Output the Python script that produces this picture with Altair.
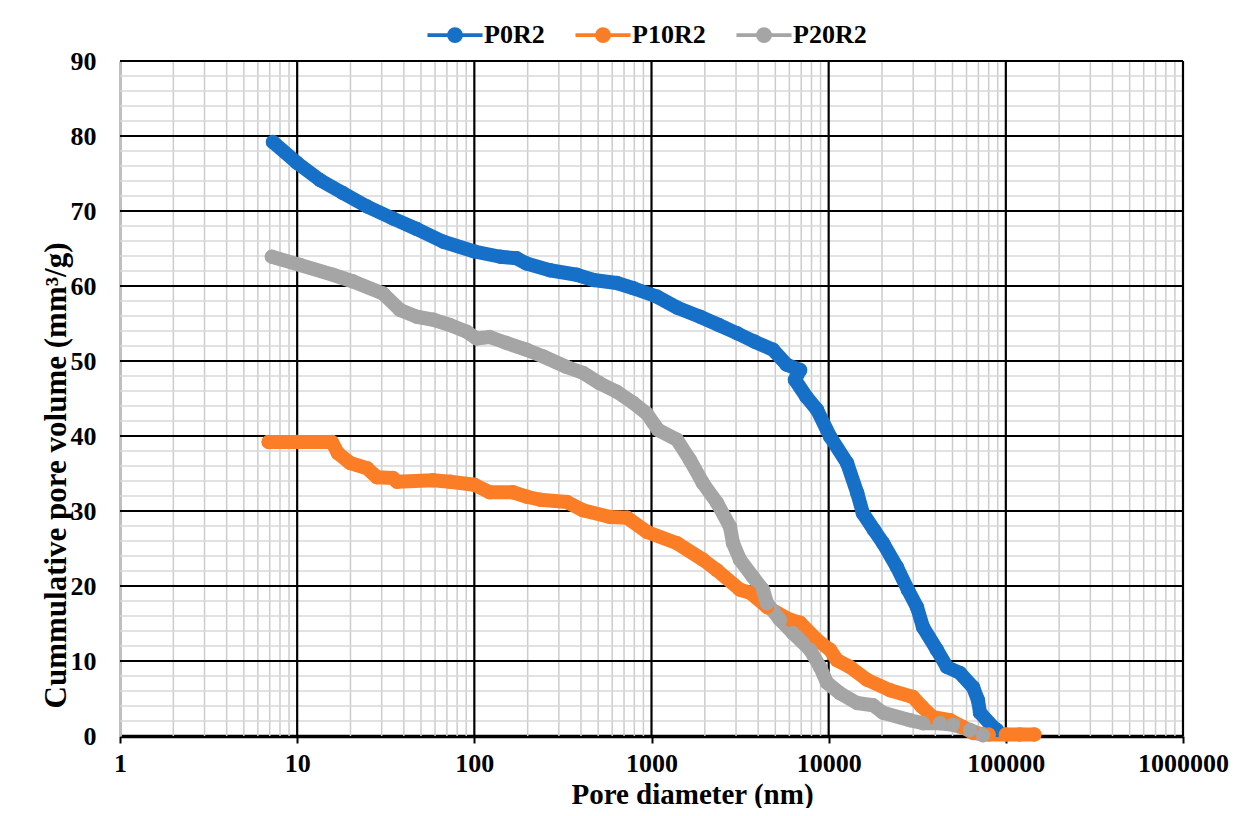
import altair as alt
import pandas as pd

# ---------------- data ----------------
series_names = ["P0R2", "P10R2", "P20R2"]
series_colors = ["#1670C8", "#FB7E27", "#A5A5A5"]

p0_d = [7.3, 10, 13.5, 18.1, 24.8, 34.7, 47.3, 66.8, 100, 140, 173, 197, 267, 378, 470, 637, 791,
        1070, 1400, 1880, 2400, 3040, 3800, 4850, 5800, 6900, 6450, 7500, 8600, 10200, 12700, 14500,
        15600, 18000, 20300, 24300, 28000, 31500, 34100, 40800, 46500, 55100, 65300, 69600, 71500,
        84600, 89100]
p0_v = [79.2, 76.4, 74.1, 72.4, 70.6, 69.0, 67.6, 65.9, 64.6, 63.9, 63.7, 63.0, 62.1, 61.5, 60.8, 60.4, 59.7,
        58.6, 57.1, 55.9, 54.8, 53.7, 52.6, 51.5, 49.5, 48.8, 47.5, 45.2, 43.5, 39.9, 36.4, 32.4,
        29.7, 27.5, 25.7, 22.5, 19.5, 17.2, 14.5, 11.5, 9.2, 8.4, 6.5, 4.8, 3.1,
        1.2, 0.8]

p10_d = [6.9, 10, 15.7, 17.0, 19.9, 24.8, 28.2, 34.7, 36.6, 58.4, 72.9, 100, 122, 165, 198, 235, 333, 410,
         583, 728, 944, 1393, 1953, 2342, 3160, 3600, 4490, 6050, 6890, 8590, 10170, 11150, 13190, 16450,
         22200, 29900, 33600, 38800, 48400, 57300, 65300, 80000, 100000, 120000, 145000]
p10_v = [39.2, 39.2, 39.2, 37.7, 36.4, 35.7, 34.5, 34.4, 33.9, 34.1, 33.9, 33.5, 32.5, 32.5, 31.9, 31.5, 31.2, 30.1,
         29.2, 29.1, 27.2, 25.7, 23.5, 22.1, 19.5, 19.1, 17.2, 15.5, 15.1, 12.8, 11.5, 10.1, 9.2, 7.5,
         6.1, 5.2, 3.9, 2.5, 2.1, 1.2, 0.4, 0.2, 0.2, 0.2, 0.2]

p20_d = [7.2, 10.4, 15.9, 20.7, 30.5, 38.1, 47.3, 58.7, 72.9, 90.6, 103, 122, 152, 197, 245, 332, 412, 512,
         637, 791, 939, 1092, 1393, 1650, 1953, 2342, 2775, 2885, 3160, 3740, 4260, 4490, 5310, 6290,
         7850, 8940, 9790, 11580, 14450, 17800, 20270, 28800, 34100, 42500, 50300, 62800, 74300]
p20_v = [63.9, 62.8, 61.5, 60.6, 59.0, 56.8, 55.9, 55.5, 54.8, 53.9, 53.0, 53.2, 52.4, 51.5, 50.6, 49.2, 48.4, 47.0,
         45.9, 44.4, 43.0, 40.8, 39.5, 36.8, 33.7, 31.1, 27.9, 25.7, 23.5, 21.2, 19.5, 17.7, 15.5, 13.7,
         11.5, 9.2, 7.1, 5.7, 4.4, 4.1, 3.1, 2.1, 1.7, 1.7, 1.5, 0.8, 0.1]

x_major = [1, 10, 100, 1000, 10000, 100000, 1000000]
x_minor = [k * 10 ** e for e in range(6) for k in range(2, 10)]
y_major = [0, 10, 20, 30, 40, 50, 60, 70, 80, 90]
y_minor = [v for v in range(2, 90, 2) if v % 10 != 0]

# ---------------- build table ----------------
rows = []
for name, ds, vs in zip(series_names, [p0_d, p10_d, p20_d], [p0_v, p10_v, p20_v]):
    for i, (d, v) in enumerate(zip(ds, vs)):
        rows.append({"series": name, "d": d, "v": v, "i": i})
df = pd.DataFrame(rows)

FONT = "Liberation Serif"
xscale = alt.Scale(type="log", domain=[1, 1000000], nice=False)
yscale = alt.Scale(domain=[0, 90], nice=False, zero=False)
cscale = alt.Scale(domain=series_names, range=series_colors)

legend_path = "M-3.67,0L3.67,0M-0.8,0A0.8,0.8,0,1,1,0.8,0A0.8,0.8,0,1,1,-0.8,0Z"
legend = alt.Legend(
    title=None, orient="none", legendX=302, legendY=-39, direction="horizontal",
    symbolType=legend_path, symbolSize=225, symbolStrokeWidth=3.8, symbolOpacity=1,
    symbolOffset=20, labelOffset=16, columnPadding=22, padding=0,
    labelFont=FONT, labelFontSize=26, labelFontWeight="bold", labelColor="black",
)

x_axis = alt.Axis(
    values=x_major, format="d", title="Pore diameter (nm)", grid=False,
    domainColor="black", domainWidth=3.5, tickColor="black", tickWidth=2, tickSize=7,
    labelFont=FONT, labelFontSize=26, labelFontWeight="bold", labelColor="black",
    labelBaseline="alphabetic", labelPadding=28, labelFlush=False, labelOverlap=False,
    titleFont=FONT, titleFontSize=29, titleFontWeight="bold", titleColor="black",
    titleX=572, titleY=67, titleBaseline="alphabetic", titleAlign="center",
)
y_axis = alt.Axis(
    values=y_major, title="Cummulative pore volume (mm³/g)", grid=False, ticks=False,
    domainColor="#BFBFBF", domainWidth=3,
    labelFont=FONT, labelFontSize=26, labelFontWeight="bold", labelColor="black",
    labelPadding=24, labelBaseline="middle",
    titleFont=FONT, titleFontSize=31, titleFontWeight="bold", titleColor="black",
    titleAngle=-90, titleX=-64, titleY=414, titleAlign="center", titleBaseline="middle",
)

gmx = alt.Chart(pd.DataFrame({"gx": x_minor})).mark_rule(color="#CCCCCC", strokeWidth=1.5).encode(
    x=alt.X("gx:Q", scale=xscale, axis=x_axis))
gmy = alt.Chart(pd.DataFrame({"gy": y_minor})).mark_rule(color="#D9D9D9", strokeWidth=1.5).encode(
    y=alt.Y("gy:Q", scale=yscale, axis=y_axis))
gMx = alt.Chart(pd.DataFrame({"gx": x_major[1:]})).mark_rule(color="black", strokeWidth=2.2).encode(
    x=alt.X("gx:Q", scale=xscale, axis=x_axis))
gMy = alt.Chart(pd.DataFrame({"gy": y_major[1:]})).mark_rule(color="black", strokeWidth=2.2).encode(
    y=alt.Y("gy:Q", scale=yscale, axis=y_axis))

lines = alt.Chart(df).mark_line(strokeWidth=14, strokeJoin="round", strokeCap="round").encode(
    x=alt.X("d:Q", scale=xscale, axis=x_axis),
    y=alt.Y("v:Q", scale=yscale, axis=y_axis),
    stroke=alt.Stroke("series:N", scale=cscale, legend=legend),
    order=alt.Order("i:Q"),
)
points = alt.Chart(df).mark_point(filled=True, size=210, opacity=1, strokeWidth=0).encode(
    x=alt.X("d:Q", scale=xscale, axis=x_axis),
    y=alt.Y("v:Q", scale=yscale, axis=y_axis),
    fill=alt.Fill("series:N", scale=cscale, legend=legend),
    stroke=alt.Stroke("series:N", scale=cscale, legend=legend),
)

chart = alt.layer(gmx, gmy, gMx, gMy, lines, points).properties(
    width=1063, height=675,
    autosize=alt.AutoSizeParams(type="none"),
    padding={"left": 112, "top": 53, "right": 55, "bottom": 72},
    background="white",
).configure_view(stroke=None)

chart.save("out.html", embed_options={"renderer": "svg", "actions": False})
